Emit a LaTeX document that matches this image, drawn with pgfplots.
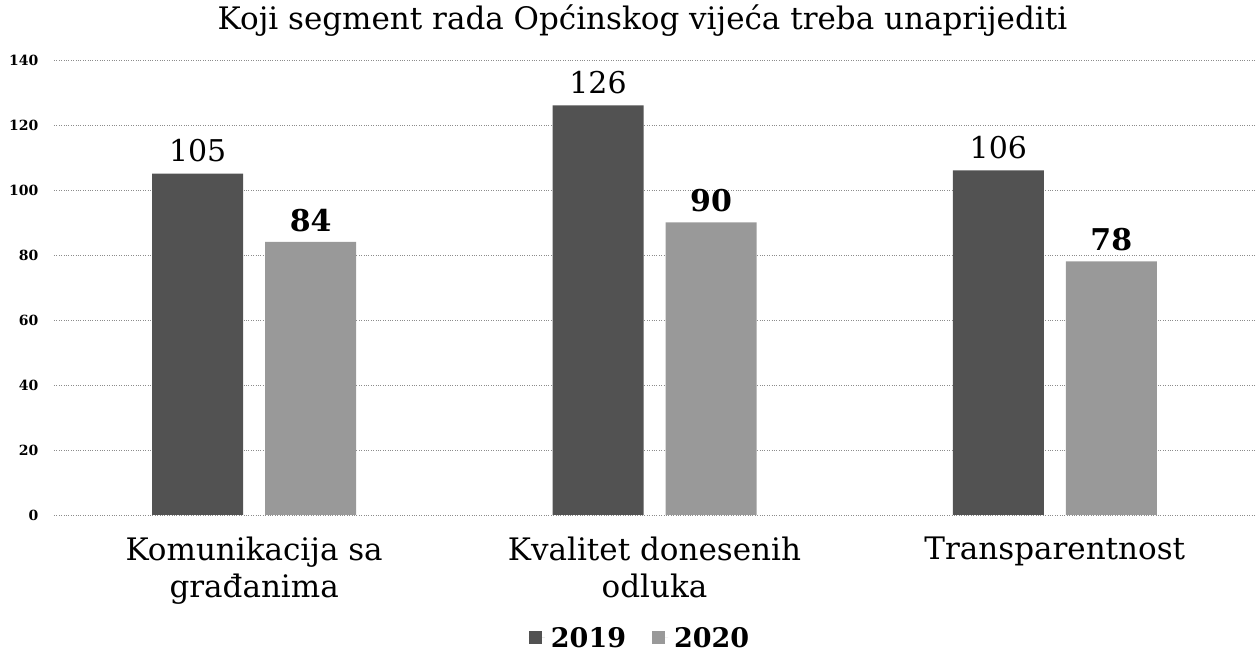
\documentclass[border=0pt]{standalone}
\usepackage{fontspec}
\setmainfont{DejaVu Serif}
\usepackage{pgfplots}
\pgfplotsset{compat=1.18}
\definecolor{c2019}{gray}{0.32}
\definecolor{c2020}{gray}{0.6}
\begin{document}
\begin{tikzpicture}
\path[use as bounding box] (0,0) rectangle (1255pt,652pt);
\begin{axis}[
  at={(54pt,137pt)}, anchor=south west,
  scale only axis, width=1201pt, height=455pt,
  ybar=22pt, bar width=91pt,
  xmin=-0.5, xmax=2.5, ymin=0, ymax=140,
  ytick={0,20,...,140},
  xtick={0,1,2},
  /pgf/number format/assume math mode=true,
  xticklabels={{Komunikacija sa\\građanima},{Kvalitet donesenih\\odluka},{Transparentnost}},
  xticklabel style={align=center, font=\fontsize{31}{37}\selectfont, anchor=north, yshift=-18pt},
  yticklabel style={font=\fontsize{14}{14}\bfseries\selectfont, xshift=-12pt},
  axis line style={draw=none},
  major tick length=0pt,
  ymajorgrids,
  grid style={dotted, black!45},
  title={Koji segment rada Općinskog vijeća treba unaprijediti},
  title style={font=\fontsize{31}{36}\selectfont, anchor=center, at={(0.49,1)}, yshift=33pt},
  legend style={at={(0.488,-0.27)}, anchor=center, legend columns=2, draw=none,
    font=\fontsize{27}{27}\bfseries\selectfont,
    /tikz/every odd column/.append style={column sep=4pt},
    /tikz/every even column/.append style={column sep=24pt}},
  legend image code/.code={\fill[#1] (0pt,-6pt) rectangle (13pt,7pt); \path (0pt,0pt) -- (16pt,0pt);},
  nodes near coords,
]
\addplot+[fill=c2019, draw=none, every node near coord/.append style={font=\fontsize{30}{30}\selectfont, text=black, yshift=8pt}]
  coordinates {(0,105) (1,126) (2,106)};
\addplot+[fill=c2020, draw=none, every node near coord/.append style={font=\fontsize{30}{30}\bfseries\selectfont, text=black, yshift=7pt}]
  coordinates {(0,84) (1,90) (2,78)};
\legend{2019,2020}
\end{axis}
\end{tikzpicture}
\end{document}
